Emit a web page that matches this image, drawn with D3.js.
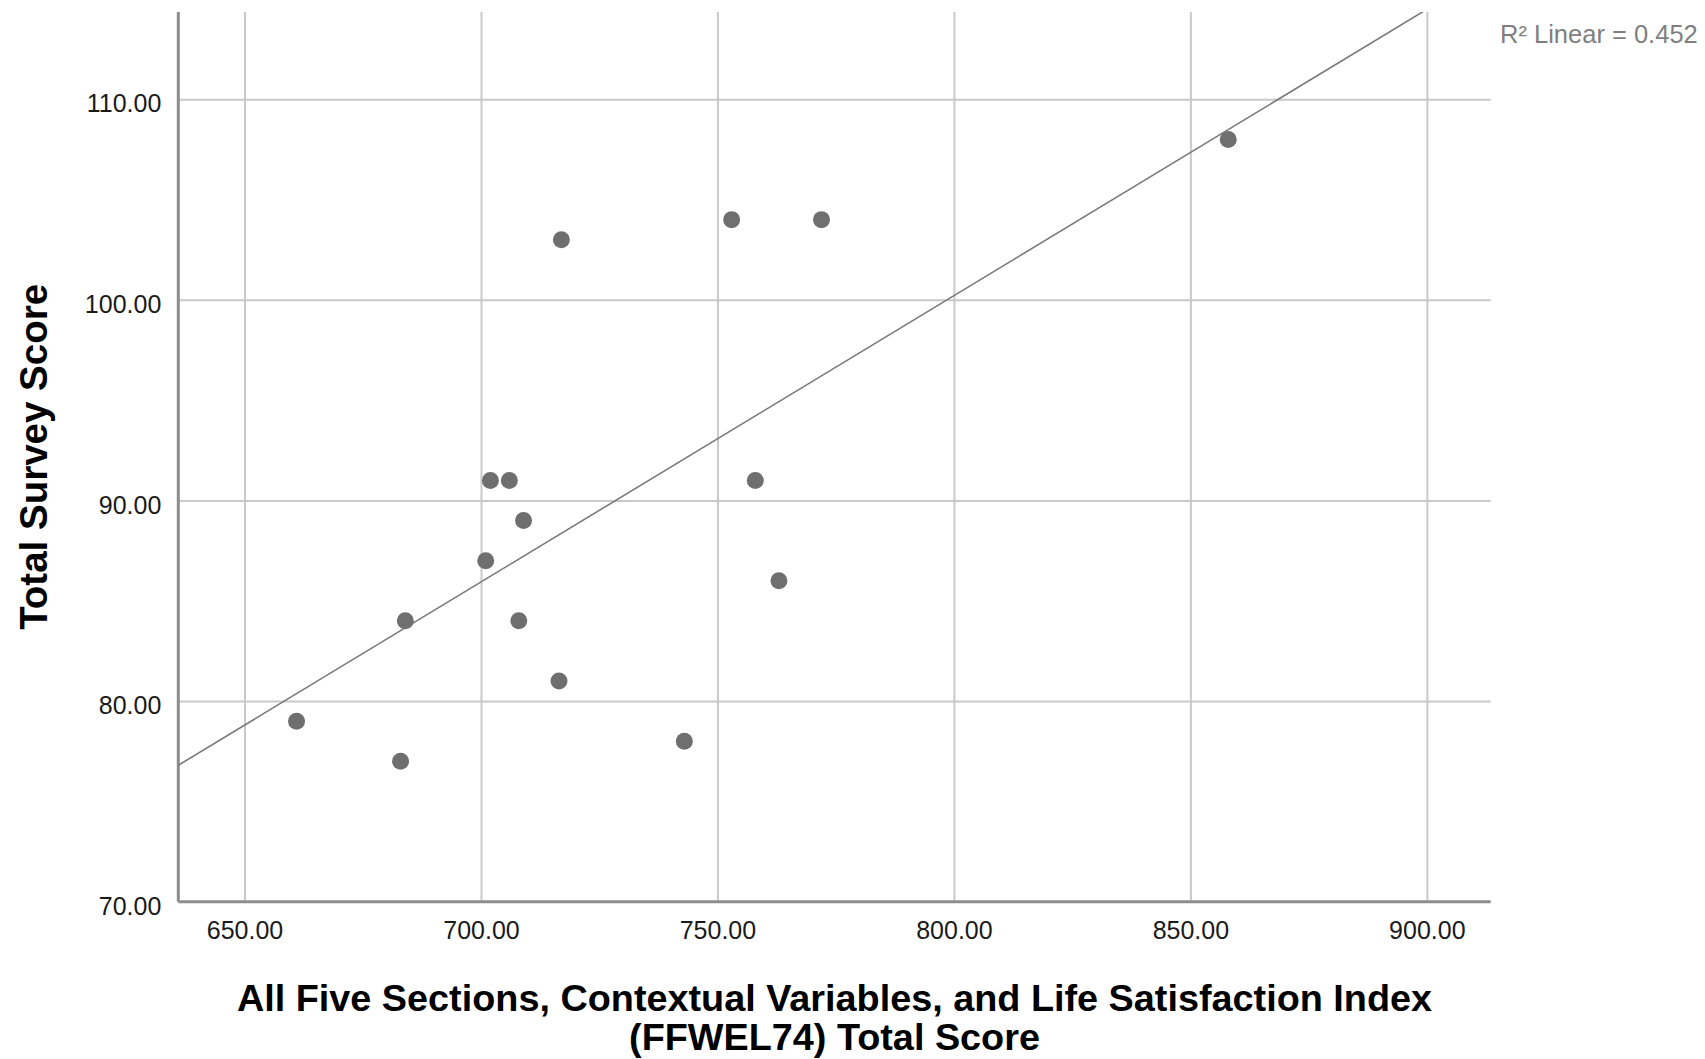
<!DOCTYPE html>
<html>
<head>
<meta charset="utf-8">
<script src="https://cdn.jsdelivr.net/npm/d3@7"></script>
<style>
  body { margin: 0; background: #fff; }
  svg { display: block; font-family: "Liberation Sans", Arial, sans-serif; }
</style>
</head>
<body>
<div id="chart"></div>
<script>
// scores
var ffwelScores = [661, 683, 684, 701, 702, 706, 709, 708, 716.5, 717, 743, 753, 758, 763, 772, 858];
var surveyScores = [79, 77, 84, 87, 91, 91, 89, 84, 81, 103, 78, 104, 91, 86, 104, 108];
var xTicks = [650, 700, 750, 800, 850, 900];
var yTicks = [70, 80, 90, 100, 110];
var r2Label = "R\u00B2 Linear = 0.452";
var xTitleLines = ["All Five Sections, Contextual Variables, and Life Satisfaction Index", "(FFWEL74) Total Score"];
var yTitle = "Total Survey Score";

var W = 1705, H = 1059;
var plot = {left: 178.3, right: 1490.7, top: 12, bottom: 901.7};

var svg = d3.select("#chart").append("svg")
    .attr("width", W)
    .attr("height", H);

var x = d3.scaleLinear().domain([636, 913.5]).range([plot.left, plot.right]);
var y = d3.scaleLinear().domain([70, 114.35]).range([plot.bottom, plot.top]);

var fmt = d3.format(".2f");

// vertical grid + x labels
var xAxis = svg.append("g")
    .attr("transform", "translate(0," + plot.bottom + ")")
    .call(d3.axisBottom(x).tickValues(xTicks).tickFormat(fmt).tickSize(-(plot.bottom - plot.top)).tickPadding(0));
xAxis.select(".domain").remove();
xAxis.selectAll(".tick line").attr("stroke", "#c9c9c9").attr("stroke-width", 2);
xAxis.selectAll(".tick text")
    .attr("y", 37.3).attr("dy", 0)
    .attr("fill", "#1a1a1a")
    .style("font-size", "25px");

// horizontal grid + y labels
var yAxis = svg.append("g")
    .attr("transform", "translate(" + plot.left + ",0)")
    .call(d3.axisLeft(y).tickValues(yTicks).tickFormat(fmt).tickSize(-(plot.right - plot.left)).tickPadding(0));
yAxis.select(".domain").remove();
yAxis.selectAll(".tick line")
    .attr("stroke", function(d){ return d === 70 ? "none" : "#c9c9c9"; })
    .attr("stroke-width", 2);
yAxis.selectAll(".tick text")
    .attr("x", -17).attr("dy", 12.6)
    .attr("fill", "#1a1a1a")
    .style("font-size", "25px");

// axis lines
svg.append("line")
    .attr("x1", x.range()[0]).attr("x2", x.range()[0])
    .attr("y1", y.range()[1]).attr("y2", y.range()[0])
    .attr("stroke", "#8c8c8c").attr("stroke-width", 3);
svg.append("line")
    .attr("x1", x.range()[0]).attr("x2", x.range()[1])
    .attr("y1", y.range()[0]).attr("y2", y.range()[0])
    .attr("stroke", "#8c8c8c").attr("stroke-width", 3);

// least squares fit line
var mx = d3.mean(ffwelScores), my = d3.mean(surveyScores);
var sxy = d3.sum(ffwelScores, function(v, i){ return (v - mx) * (surveyScores[i] - my); });
var sxx = d3.sum(ffwelScores, function(v){ return (v - mx) * (v - mx); });
var slope = sxy / sxx, intercept = my - slope * mx;

svg.append("clipPath").attr("id", "plotClip")
  .append("rect")
    .attr("x", plot.left).attr("y", plot.top)
    .attr("width", plot.right - plot.left).attr("height", plot.bottom - plot.top);

var xd = x.domain();
svg.append("line")
    .attr("clip-path", "url(#plotClip)")
    .attr("x1", x(xd[0])).attr("y1", y(intercept + slope * xd[0]))
    .attr("x2", x(xd[1])).attr("y2", y(intercept + slope * xd[1]))
    .attr("stroke", "#7a7a7a").attr("stroke-width", 1.6);

// points
svg.append("g").selectAll("circle")
    .data(ffwelScores)
    .enter().append("circle")
    .attr("cx", function(d){ return x(d); })
    .attr("cy", function(d, i){ return y(surveyScores[i]); })
    .attr("r", 8.5)
    .attr("fill", "#6f6f6f");

// R2 note
svg.append("text")
    .attr("x", 1500).attr("y", 43)
    .attr("fill", "#7f7f7f")
    .style("font-size", "25.5px")
    .text(r2Label);

// axis titles
svg.append("g").selectAll("text")
    .data(xTitleLines)
    .enter().append("text")
    .attr("x", (plot.left + plot.right) / 2)
    .attr("y", function(d, i){ return 1011 + i * 39; })
    .attr("text-anchor", "middle")
    .attr("font-weight", "bold")
    .attr("fill", "#000")
    .style("font-size", "37.8px")
    .text(function(d){ return d; });

svg.append("text")
    .attr("transform", "translate(47," + ((plot.top + plot.bottom) / 2) + ") rotate(-90)")
    .attr("text-anchor", "middle")
    .attr("font-weight", "bold")
    .attr("fill", "#000")
    .style("font-size", "38.5px")
    .text(yTitle);
</script>
</body>
</html>
